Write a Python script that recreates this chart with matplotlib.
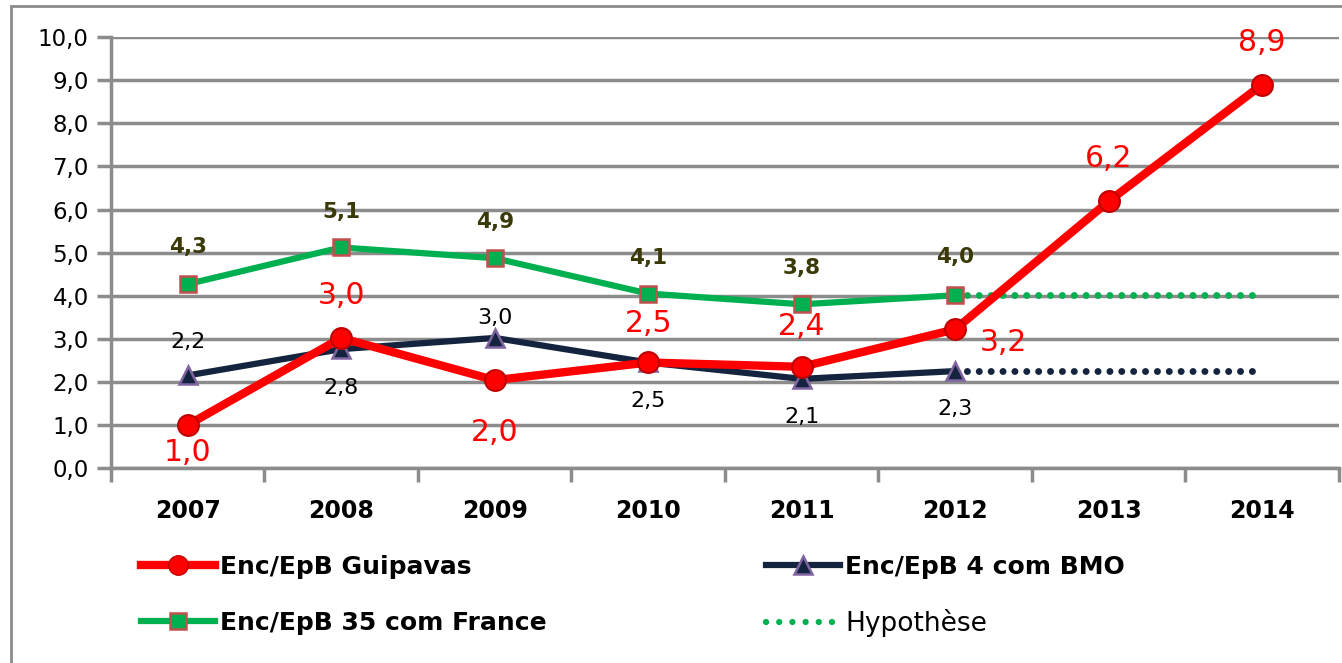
import numpy as np
import matplotlib
matplotlib.use('Agg')
import matplotlib.pyplot as plt
from matplotlib.lines import Line2D
from matplotlib.patches import Rectangle

plt.rcParams['font.family'] = ['DejaVu Sans']

years = ["2007", "2008", "2009", "2010", "2011", "2012", "2013", "2014"]
guipavas = [1.0, 3.02, 2.04, 2.45, 2.35, 3.22, 6.19, 8.9]
bmo = [2.15, 2.76, 3.02, 2.45, 2.07, 2.25]
france = [4.27, 5.12, 4.87, 4.05, 3.8, 4.01]
hyp_green = [4.01, 4.01, 4.01]
hyp_navy = [2.25, 2.25, 2.25]

lbl_guipavas = ["1,0", "3,0", "2,0", "2,5", "2,4", "3,2", "6,2", "8,9"]
lbl_bmo = ["2,2", "2,8", "3,0", "2,5", "2,1", "2,3"]
lbl_france = ["4,3", "5,1", "4,9", "4,1", "3,8", "4,0"]

RED = "#ff0000"
GREEN = "#00b050"
NAVY = "#14243f"
GRID = "#8c8c8c"
OLIVE = "#3a3a08"
DOTS = (0, (0.01, 1.7))

fig = plt.figure(figsize=(13.42, 6.63), dpi=100)
ax = fig.add_axes([0.0827, 0.294, 0.9150, 0.650])

x = np.arange(len(years))
xh = x[5:]

# hypothesis dotted lines
ax.plot(xh, hyp_green, color=GREEN, lw=5, linestyle=DOTS, dash_capstyle='round', zorder=3)
ax.plot(xh, hyp_navy, color=NAVY, lw=5, linestyle=DOTS, dash_capstyle='round', zorder=3)

ax.plot(x[:6], france, color=GREEN, lw=4.5, marker='s', ms=11,
        mfc=GREEN, mec="#c0504d", mew=1.8, zorder=4)
ax.plot(x[:6], bmo, color=NAVY, lw=4.5, marker='^', ms=13,
        mfc=NAVY, mec="#8064a2", mew=1.8, zorder=5)
ax.plot(x, guipavas, color=RED, lw=6, marker='o', ms=15,
        mfc=RED, mec="#c00000", mew=1.5, zorder=6)

# data labels (offsets in pixels)
off_france = [(0, 37), (0, 35), (0, 36), (0, 36), (0, 36), (0, 38)]
off_bmo = [(0, 33), (0, -39), (0, 20), (0, -39), (0, -38), (0, -38)]
off_guip = [(0, -28), (0, 42), (0, -52), (0, 39), (0, 40), (48, -13), (0, 43), (0, 42)]

for i in range(6):
    ax.annotate(lbl_france[i], (x[i], france[i]), xytext=off_france[i],
                textcoords='offset pixels', ha='center', va='center',
                fontsize=15.5, fontweight='bold', color=OLIVE, zorder=7)
    ax.annotate(lbl_bmo[i], (x[i], bmo[i]), xytext=off_bmo[i],
                textcoords='offset pixels', ha='center', va='center',
                fontsize=16, color='black', zorder=7)
for i in range(len(years)):
    ax.annotate(lbl_guipavas[i], (x[i], guipavas[i]), xytext=off_guip[i],
                textcoords='offset pixels', ha='center', va='center',
                fontsize=21.5, color=RED, zorder=7)

ax.set_xlim(-0.5, 7.5)
ax.set_ylim(0, 10)
yt = np.arange(0, 10.1, 1)
ax.set_yticks(yt)
ax.set_yticklabels([("%.1f" % v).replace(".", ",") for v in yt])
ax.set_xticks(np.arange(-0.5, 7.6, 1))
ax.set_xticklabels([])
ax.set_xticks(x, minor=True)
ax.set_xticklabels(years, minor=True, fontsize=17, fontweight='bold')
ax.tick_params(axis='x', which='minor', length=0, pad=22)
ax.tick_params(axis='x', which='major', length=10, width=2.5, color=GRID, direction='out')
ax.tick_params(axis='y', length=10, width=2.5, color=GRID, labelsize=16.5, pad=6)

ax.grid(axis='y', color=GRID, lw=2.5)
ax.set_axisbelow(True)
for s in ['top', 'right']:
    ax.spines[s].set_visible(False)
for s in ['left', 'bottom']:
    ax.spines[s].set_color(GRID)
    ax.spines[s].set_linewidth(2.5)

# legend, one entry each at its own place
h1 = Line2D([], [], color=RED, lw=6, marker='o', ms=14, mfc=RED, mec="#c00000")
h2 = Line2D([], [], color=GREEN, lw=4.5, marker='s', ms=11, mfc=GREEN, mec="#c0504d", mew=1.8)
h3 = Line2D([], [], color=NAVY, lw=4.5, marker='^', ms=13, mfc=NAVY, mec="#8064a2", mew=1.8)
h4 = Line2D([], [], color=GREEN, lw=4.5, linestyle=(0, (0.01, 2.1)), dash_capstyle='round')
entries = [(h1, "Enc/EpB Guipavas", 141, 567, 'bold', 18),
           (h2, "Enc/EpB 35 com France", 141, 623, 'bold', 18),
           (h3, "Enc/EpB 4 com BMO", 766, 567, 'bold', 18),
           (h4, "Hypothèse", 766, 623, 'normal', 19)]
for h, lab, px, py, fw, fs in entries:
    lg = fig.legend([h], [lab], loc='center left', bbox_to_anchor=(px / 1342, 1 - py / 663),
                    frameon=False, borderpad=0, borderaxespad=0, handlelength=74 / (fs * 100 / 72),
                    handletextpad=0.2, prop={'size': fs, 'weight': fw})

# outer chart border
fig.patches.append(Rectangle((11 / 1342, -0.05), 1.1, 1.05 - 6 / 663, transform=fig.transFigure,
                             fill=False, edgecolor=GRID, lw=2, zorder=0))

fig.savefig("out.png", dpi=100, facecolor='white')
